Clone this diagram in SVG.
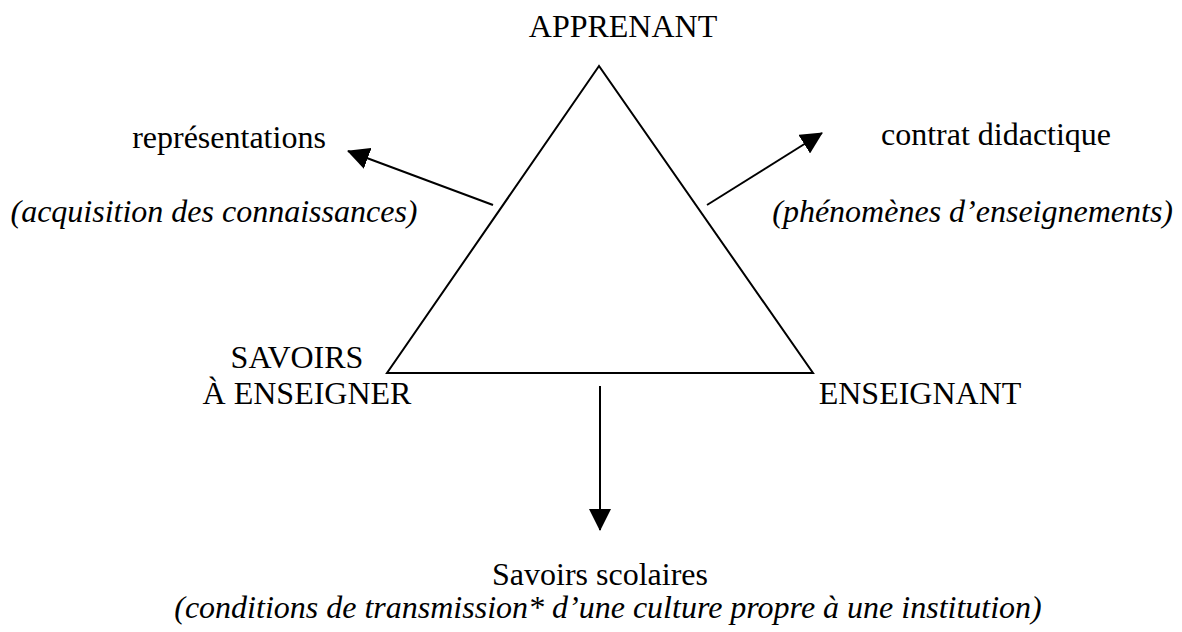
<svg xmlns="http://www.w3.org/2000/svg" width="1182" height="632" viewBox="0 0 1182 632">
  <style>
    text { font-family: "Liberation Serif", "Times New Roman", serif; font-size: 32px; fill: #000; }
    .it { font-style: italic; }
    .ln { stroke: #000; stroke-width: 2; fill: none; }
  </style>
  <defs>
    <!-- solid triangular arrowhead -->
    <marker id="head" viewBox="0 0 22 22" refX="21" refY="11" markerWidth="22" markerHeight="22" markerUnits="userSpaceOnUse" orient="auto">
      <path d="M0,0 L22,11 L0,22 Z" fill="#000"/>
    </marker>
  </defs>
  <rect width="1182" height="632" fill="#fff"/>

  <!-- didactic triangle -->
  <g id="triangle">
    <path class="ln" d="M599,66 L387,373 L813,373 Z"/>
  </g>

  <!-- connectors -->
  <g id="connectors">
    <line class="ln" x1="493" y1="205" x2="348" y2="151" marker-end="url(#head)"/>
    <line class="ln" x1="707" y1="205" x2="822" y2="133" marker-end="url(#head)"/>
    <line class="ln" x1="600" y1="386" x2="600" y2="530" marker-end="url(#head)"/>
  </g>

  <g id="apprenant">
    <text x="623" y="37" text-anchor="middle">APPRENANT</text>
  </g>
  <g id="savoirs-a-enseigner">
    <text x="297" y="368" text-anchor="middle">SAVOIRS</text>
    <text x="307" y="404" text-anchor="middle">À ENSEIGNER</text>
  </g>
  <g id="enseignant">
    <text x="920" y="404" text-anchor="middle">ENSEIGNANT</text>
  </g>
  <g id="representations">
    <text x="229" y="148" text-anchor="middle">représentations</text>
    <text class="it" x="214" y="222" text-anchor="middle">(acquisition des connaissances)</text>
  </g>
  <g id="contrat">
    <text x="996" y="145" text-anchor="middle" font-size="31">contrat didactique</text>
    <text class="it" x="1173" y="222" text-anchor="end" font-size="31">(phénomènes d’enseignements)</text>
  </g>
  <g id="savoirs-scolaires">
    <text x="600" y="585" text-anchor="middle">Savoirs scolaires</text>
    <text class="it" x="608" y="618" text-anchor="middle" font-size="33">(conditions de transmission* d’une culture propre à une institution)</text>
  </g>
</svg>
